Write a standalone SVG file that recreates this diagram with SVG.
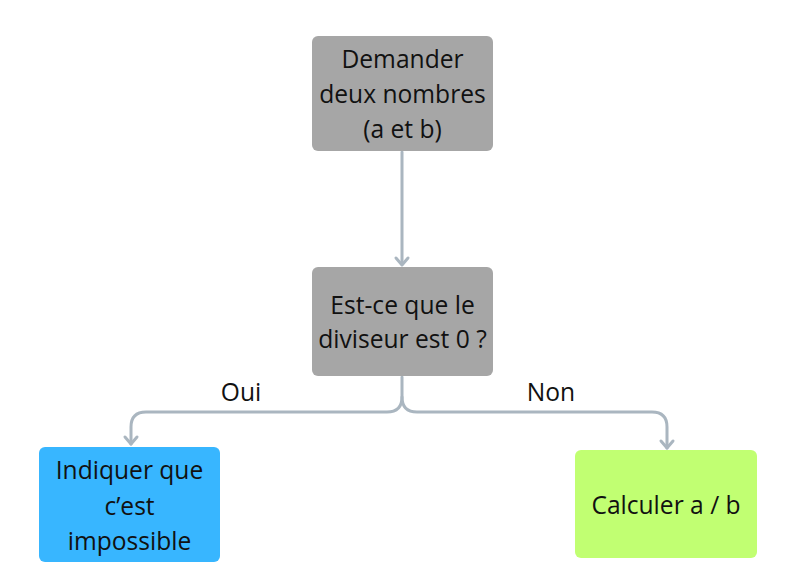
<svg xmlns="http://www.w3.org/2000/svg" width="797" height="586" viewBox="0 0 797 586">
<style>
.t{font-family:"Open Sans","Noto Sans",sans-serif;font-size:24.6px;fill:#111;text-anchor:middle}
.c{fill:none;stroke:#aab6c0;stroke-width:3;stroke-linecap:round;stroke-linejoin:round}
</style>
<rect width="797" height="586" fill="#fff"/>
<g id="connectors">
<path class="c" d="M402,152 V264"/>
<path d="M396,258 L402,265 L408,258" class="c"/>
<path class="c" d="M402,377 V397 Q402,412 387,412 H146 Q131,412 131,427 V444"/>
<path d="M125,437 L131,444 L137,437" class="c"/>
<path class="c" d="M402,397 Q402,412 417,412 H652 Q667,412 667,427 V448"/>
<path d="M661,441 L667,448 L673,441" class="c"/>
</g>
<g id="labels">
<text class="t" x="241" y="401">Oui</text>
<text class="t" x="551" y="401">Non</text>
</g>
<g id="n1">
<rect x="312" y="36" width="181" height="115" rx="6" fill="#a6a6a6"/>
<text class="t" x="402.5" y="68">Demander</text>
<text class="t" x="402.5" y="103">deux nombres</text>
<text class="t" x="402.5" y="138">(a et b)</text>
</g>
<g id="n2">
<rect x="312" y="267" width="181" height="109" rx="6" fill="#a6a6a6"/>
<text class="t" x="402.5" y="314">Est-ce que le</text>
<text class="t" x="402.5" y="348">diviseur est 0 ?</text>
</g>
<g id="n3">
<rect x="39" y="447" width="181" height="115" rx="6" fill="#38b6ff"/>
<text class="t" x="129.5" y="479">Indiquer que</text>
<text class="t" x="129.5" y="515">c’est</text>
<text class="t" x="129.5" y="550">impossible</text>
</g>
<g id="n4">
<rect x="575" y="450" width="182" height="108" rx="6" fill="#c1ff72"/>
<text class="t" x="666" y="514">Calculer a / b</text>
</g>
</svg>
